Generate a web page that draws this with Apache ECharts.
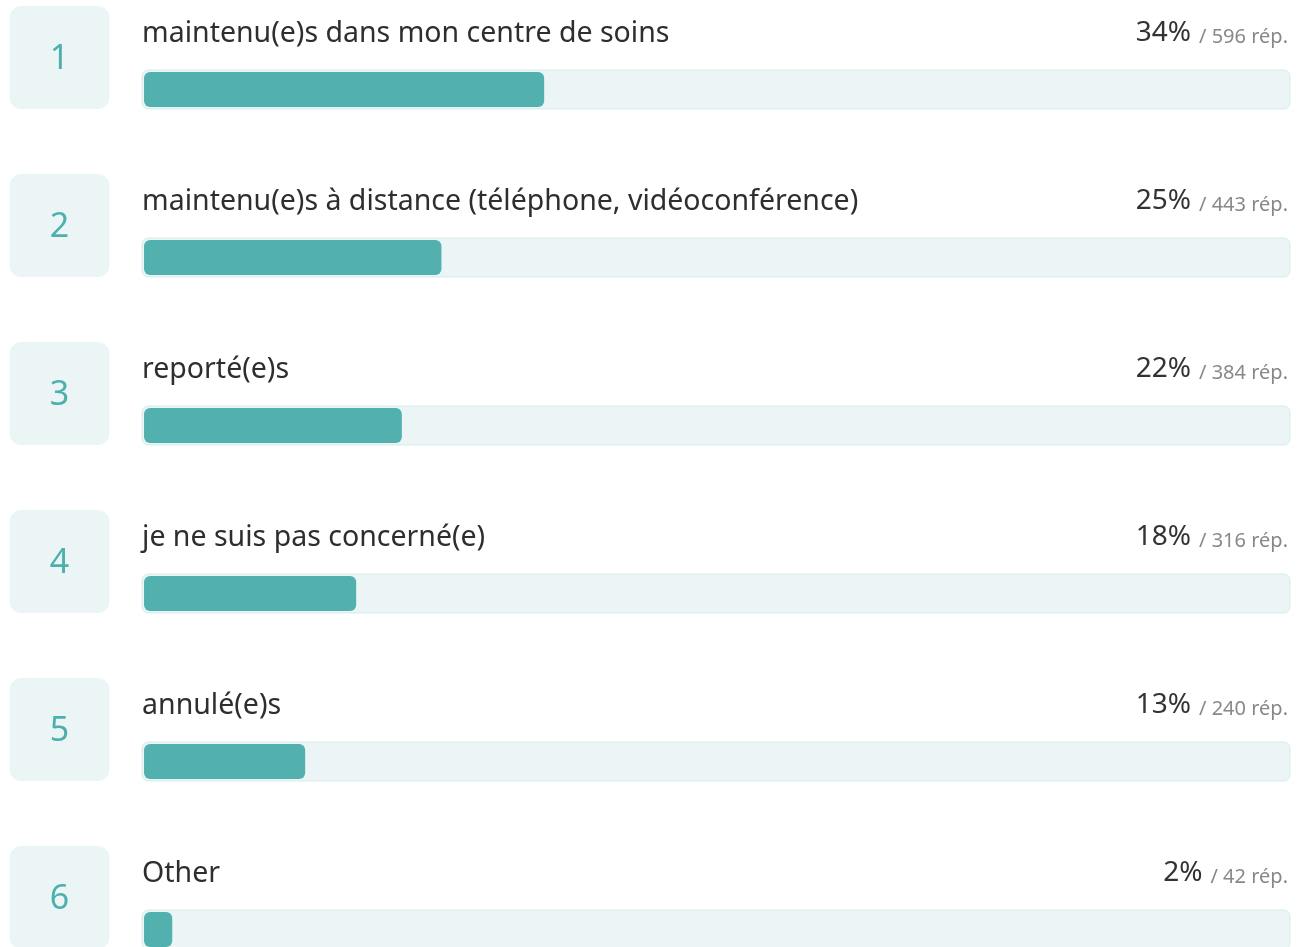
<!DOCTYPE html>
<html>
<head>
<meta charset="utf-8">
<script src="https://cdn.jsdelivr.net/npm/echarts@6/dist/echarts.min.js"></script>
<style>
  html, body { margin: 0; padding: 0; overflow: hidden; background: #fff; }
  #chart { width: 1302px; height: 1014px; }
</style>
</head>
<body>
<div id="chart"></div>
<script>
const categories = [
  'maintenu(e)s dans mon centre de soins',
  'maintenu(e)s à distance (téléphone, vidéoconférence)',
  'reporté(e)s',
  'je ne suis pas concerné(e)',
  'annulé(e)s',
  'Other'
]
const counts = [596, 443, 384, 316, 240, 42]
const percents = [34, 25, 22, 18, 13, 2]
const TOTAL = 1778 // répondants

const FONT = '"Noto Sans", Lato, sans-serif'
const X_MIN = -0.17
const X_MAX = 96
const shares = counts.map(c => c / TOTAL * 100)

const chart = echarts.init(document.getElementById('chart'))
chart.setOption({
  animation: false,
  grid: { left: 142, right: 12, top: 5.5, bottom: 0.5 },
  xAxis: { type: 'value', min: X_MIN, max: X_MAX, show: false },
  yAxis: [
    {
      type: 'category',
      inverse: true,
      data: categories,
      axisLine: { show: false },
      axisTick: { show: false },
      splitLine: { show: false },
      axisLabel: {
        align: 'center',
        margin: 82.5,
        formatter: (v, i) => '{box|' + (i + 1) + '}\n{gap| }',
        rich: {
          box: {
            width: 100,
            height: 99,
            align: 'center',
            backgroundColor: '#ebf5f6',
            borderRadius: 12,
            color: '#4db0ad',
            fontSize: 34,
            fontFamily: FONT,
            padding: [4, 0, 0, 0]
          },
          gap: { height: 64, fontSize: 1 }
        }
      }
    },
    { type: 'category', inverse: true, data: categories, show: false }
  ],
  series: [
    {
      // piste de fond + libellés de droite
      type: 'bar',
      yAxisIndex: 0,
      barWidth: 39,
      data: categories.map(() => X_MAX),
      itemStyle: { color: 'rgba(0,0,0,0)' },
      showBackground: true,
      backgroundStyle: {
        color: '#ebf5f6',
        borderColor: '#d7eded',
        borderWidth: 1,
        borderRadius: 6
      },
      silent: true,
      label: {
        show: true,
        position: ['100%', -37],
        offset: [-2, 0],
        align: 'right',
        verticalAlign: 'middle',
        formatter: p => '{p|' + percents[p.dataIndex] + '%}{r|/ ' + counts[p.dataIndex] + ' rép.}',
        rich: {
          p: { fontSize: 28, lineHeight: 28, verticalAlign: 'bottom', color: '#333', fontFamily: FONT },
          r: { fontSize: 20, lineHeight: 20, verticalAlign: 'bottom', color: '#888', fontFamily: FONT, padding: [0, 0, 0, 8] }
        }
      }
    },
    {
      type: 'bar',
      yAxisIndex: 1,
      barWidth: 35,
      z: 3,
      data: shares,
      itemStyle: { color: '#52b0ae', borderRadius: 6 },
      label: {
        show: true,
        position: [-2, -38.5],
        align: 'left',
        verticalAlign: 'middle',
        formatter: '{b}',
        fontSize: 28.5,
        color: '#2e2e2e',
        fontFamily: FONT
      }
    }
  ]
})
</script>
</body>
</html>
